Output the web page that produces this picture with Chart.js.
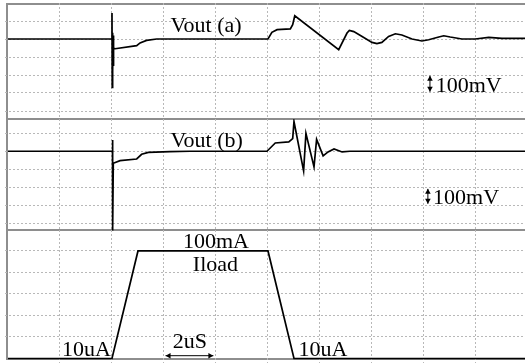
<!DOCTYPE html>
<html>
<head>
<meta charset="utf-8">
<script src="https://cdn.jsdelivr.net/npm/chart.js@4.4.1/dist/chart.umd.min.js"></script>
<style>
  html, body { margin: 0; padding: 0; background: #fff; }
  body { width: 525px; height: 363px; position: relative; overflow: hidden; }
  canvas { position: absolute; left: 5px; }
  #panelA { top: 3px; }
  #panelB { top: 119px; }
  #panelC { top: 230px; }
  .frame { position: absolute; background: #8e8e8e; }
</style>
</head>
<body>
<!-- scope frame: left edge, top, two separators, bottom -->
<div class="frame" style="left:6px; top:4px; width:2px; height:356px"></div>
<div class="frame" style="left:6px; top:3px; width:519px; height:2px"></div>
<div class="frame" style="left:6px; top:118px; width:519px; height:2px"></div>
<div class="frame" style="left:6px; top:229px; width:519px; height:2px"></div>
<div class="frame" style="left:6px; top:358px; width:519px; height:2px"></div>

<canvas id="panelA" width="530" height="117"></canvas>
<canvas id="panelB" width="530" height="112"></canvas>
<canvas id="panelC" width="530" height="133"></canvas>
<script>
// time axis in uS, one division = 2 uS
var xGrid = [2, 4, 6, 8, 10, 12, 14, 16, 18];
var voltGrid = [-400, -300, -200, -100, 0, 100];   // mV, one division = 100 mV
var currentGrid = [20, 40, 60, 80, 100];           // mA

// Vout (a), mV from the settled level
var voutATime  = [0, 4.0, 4.0, 4.01, 4.02, 4.03, 4.04, 4.05, 4.07, 4.12, 4.95, 5.08, 5.33, 5.72,
                  10.0, 10.15, 10.35, 10.86, 10.95, 11.03, 12.72, 13.04, 13.13, 13.3, 13.62, 14.0,
                  14.19, 14.38, 14.64, 14.9, 15.15, 15.54, 15.92, 16.18, 16.57, 16.76, 17.01, 17.46,
                  17.97, 18.49, 19.0, 20.3];
var voutAValue = [0, 0, 144, -269, 35, -180, 20, -150, -54, -54, -37, -22, -8, 0,
                  0, 37, 52, 56, 79, 129, -59, 33, 48, 41, 14, -19,
                  -26, -19, 14, 29, 22, 0, -11, -4, 11, 18, 11, 0,
                  0, 9, 3, 3];

// Vout (b)
var voutBTime  = [0, 4.02, 4.02, 4.03, 4.05, 4.31, 4.95, 5.14, 5.4, 6.23, 7.0,
                  9.96, 10.28, 10.8, 10.95, 11.0, 11.37, 11.46, 11.77, 11.87, 12.12, 12.31,
                  12.54, 12.7, 12.85, 13.15, 20.3];
var voutBValue = [0, 0, 63, -440, -67, -52, -43, -17, -6, -2, 0,
                  0, 46, 52, 70, 165, -109, 99, -87, 66, -26, -4,
                  13, 4, -4, 0, 0];

// Iload, mA
var iloadTime  = [0, 4.0, 5.0, 10.0, 11.0, 20.3];
var iloadValue = [0, 0, 100, 100, 0, 0];

function points(xs, ys) {
  return xs.map(function (x, i) { return { x: x, y: ys[i] }; });
}

function arrowHead(ctx, x, y, dx, dy, len, half) {
  var n = Math.sqrt(dx * dx + dy * dy); dx /= n; dy /= n;
  ctx.beginPath();
  ctx.moveTo(x, y);
  ctx.lineTo(x - dx * len - dy * half, y - dy * len + dx * half);
  ctx.lineTo(x - dx * len + dy * half, y - dy * len - dx * half);
  ctx.closePath();
  ctx.fill();
}

// text and double arrows, placed in data units
function annotations(labels, arrows) {
  return {
    id: 'annotations',
    afterDatasetsDraw: function (chart) {
      var ctx = chart.ctx, sx = chart.scales.x, sy = chart.scales.y;
      ctx.save();
      ctx.fillStyle = '#000';
      ctx.strokeStyle = '#000';
      ctx.font = '22px "Liberation Serif", "Times New Roman", serif';
      ctx.textBaseline = 'alphabetic';
      labels.forEach(function (l) {
        ctx.textAlign = l.align;
        ctx.fillText(l.text, sx.getPixelForValue(l.x), sy.getPixelForValue(l.y));
      });
      arrows.forEach(function (r) {
        var x1 = sx.getPixelForValue(r.x1), y1 = sy.getPixelForValue(r.y1);
        var x2 = sx.getPixelForValue(r.x2), y2 = sy.getPixelForValue(r.y2);
        ctx.lineWidth = 1;
        ctx.beginPath(); ctx.moveTo(x1, y1); ctx.lineTo(x2, y2); ctx.stroke();
        arrowHead(ctx, x1, y1, x1 - x2, y1 - y2, 5, 2.8);
        arrowHead(ctx, x2, y2, x2 - x1, y2 - y1, 5, 2.8);
      });
      ctx.restore();
    }
  };
}

function makePanel(id, data, yMin, yMax, yGrid, plugin) {
  return new Chart(document.getElementById(id), {
    type: 'line',
    data: {
      datasets: [{
        data: data,
        borderColor: '#000',
        borderWidth: 1.7,
        pointRadius: 0,
        tension: 0,
        fill: false
      }]
    },
    options: {
      responsive: false,
      animation: false,
      parsing: false,
      layout: { padding: 0 },
      plugins: { legend: { display: false }, tooltip: { enabled: false } },
      scales: {
        x: {
          type: 'linear', min: -0.115, max: 20.27,
          ticks: { display: false },
          grid: { color: '#b8b8b8', drawTicks: false, lineWidth: 1 },
          border: { display: false, dash: [2, 2] },
          afterBuildTicks: function (s) { s.ticks = xGrid.map(function (v) { return { value: v }; }); },
          afterFit: function (s) { s.height = 0; }
        },
        y: {
          type: 'linear', min: yMin, max: yMax,
          ticks: { display: false },
          grid: { color: '#b8b8b8', drawTicks: false, lineWidth: 1 },
          border: { display: false, dash: [2, 2] },
          afterBuildTicks: function (s) { s.ticks = yGrid.map(function (v) { return { value: v }; }); },
          afterFit: function (s) { s.width = 0; }
        }
      }
    },
    plugins: [plugin]
  });
}

makePanel('panelA', points(voutATime, voutAValue), -450, 200, voltGrid,
  annotations(
    [{ text: 'Vout (a)', x: 7.62, y: 40, align: 'center' },
     { text: '100mV', x: 16.45, y: -293, align: 'left' }],
    [{ x1: 16.23, y1: -204, x2: 16.23, y2: -293 }]));

makePanel('panelB', points(voutBTime, voutBValue), -443, 179, voltGrid,
  annotations(
    [{ text: 'Vout (b)', x: 7.64, y: 26, align: 'center' },
     { text: '100mV', x: 16.35, y: -294, align: 'left' }],
    [{ x1: 16.15, y1: -209, x2: 16.15, y2: -292 }]));

makePanel('panelC', points(iloadTime, iloadValue), -4.2, 119.5, currentGrid,
  annotations(
    [{ text: '100mA', x: 8.0, y: 102.5, align: 'center' },
     { text: 'Iload', x: 7.98, y: 81.7, align: 'center' },
     { text: '10uA', x: 2.08, y: 2.6, align: 'left' },
     { text: '10uA', x: 11.17, y: 2.3, align: 'left' },
     { text: '2uS', x: 7.0, y: 9.5, align: 'center' }],
    [{ x1: 6.06, y1: 2.6, x2: 7.9, y2: 2.6 }]));
</script>
</body>
</html>
